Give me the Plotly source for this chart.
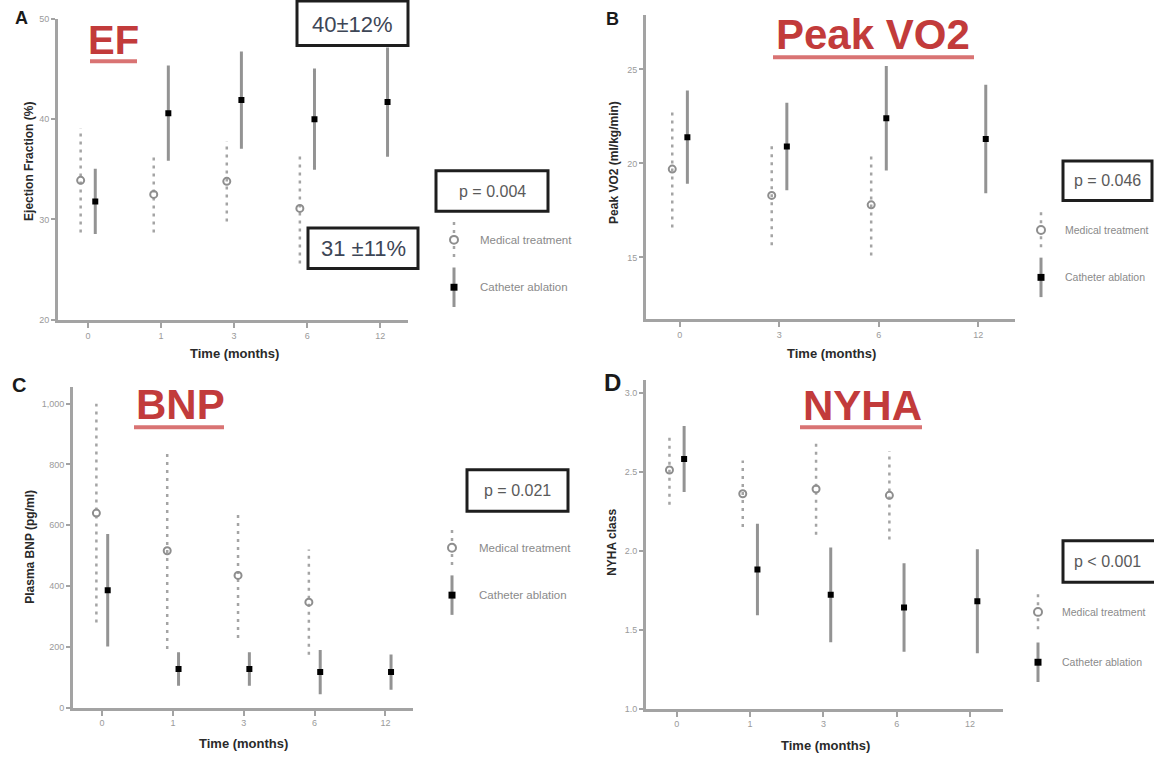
import plotly.graph_objects as go

W, H = 1154, 760

# ---------------- data ----------------
ef_times = ["0", "1", "3", "6", "12"]
ef_med_mean = [33.9, 32.5, 33.8, 31.1, None]
ef_med_sd = [5.2, 3.8, 4.0, 5.5, None]
ef_cath_mean = [31.8, 40.6, 41.9, 40.0, 41.7]
ef_cath_sd = [3.1, 4.6, 4.7, 4.9, 5.3]

vo2_times = ["0", "3", "6", "12"]
vo2_med_mean = [19.7, 18.3, 17.8, None]
vo2_med_sd = [3.1, 2.65, 2.7, None]
vo2_cath_mean = [21.4, 20.9, 22.4, 21.3]
vo2_cath_sd = [2.4, 2.25, 2.7, 2.8]

bnp_times = ["0", "1", "3", "6", "12"]
bnp_med_mean = [640, 516, 435, 347, None]
bnp_med_sd = [360, 323, 206, 173, None]
bnp_cath_mean = [386, 127, 127, 117, 117]
bnp_cath_sd = [180, 50, 50, 68, 53]

nyha_times = ["0", "1", "3", "6", "12"]
nyha_med_mean = [2.51, 2.36, 2.39, 2.35, None]
nyha_med_sd = [0.22, 0.21, 0.29, 0.28, None]
nyha_cath_mean = [2.58, 1.88, 1.72, 1.64, 1.68]
nyha_cath_sd = [0.20, 0.28, 0.29, 0.27, 0.32]

ef_yticks = [20, 30, 40, 50]
vo2_yticks = [15, 20, 25]
bnp_yticks = [0, 200, 400, 600, 800, 1000]
bnp_yticktext = ["0", "200", "400", "600", "800", "1,000"]
nyha_yticks = [1.0, 1.5, 2.0, 2.5, 3.0]
nyha_yticktext = ["1.0", "1.5", "2.0", "2.5", "3.0"]

titles = ["EF", "Peak VO2", "BNP", "NYHA"]
ytitles = ["Ejection Fraction (%)", "Peak VO2 (ml/kg/min)", "Plasma BNP (pg/ml)", "NYHA class"]
pvalues = ["p = 0.004", "p = 0.046", "p = 0.021", "p < 0.001"]
letters = ["A", "B", "C", "D"]
legend_names = ["Medical treatment", "Catheter ablation"]

# ---------------- layout helpers ----------------
def px(x):
    return x / W

def py(y):
    return 1 - y / H

RED = "#c23b3b"
RED_UL = "#d97373"
AXIS = "#a3a3a3"
GREY_TXT = "#9a9a9a"
FONT = "Liberation Sans, Arial, sans-serif"

panels = [
    dict(times=ef_times, med=(ef_med_mean, ef_med_sd), cath=(ef_cath_mean, ef_cath_sd),
         xpx=(58, 408), ypx=(14, 319), xr=[-0.41, 4.38], yr=[20, 50],
         yt=ef_yticks, ytt=[str(v) for v in ef_yticks], off=0.1,
         title_c=(113, 35), title_size=40, ul=(90, 137, 57),
         ytitle_c=(29, 159), xtitle_c=(234, 353),
         pbox=(436, 548, 168, 209), leg=(454, 238, 286, 478), leg_size=11.5,
         letter=(21, 13), letter_size=18),
    dict(times=vo2_times, med=(vo2_med_mean, vo2_med_sd), cath=(vo2_cath_mean, vo2_cath_sd),
         xpx=(646, 1015), ypx=(10, 318), xr=[-0.34, 3.37], yr=[11.74, 27.9],
         yt=vo2_yticks, ytt=[str(v) for v in vo2_yticks], off=0.076,
         title_c=(873, 30), title_size=42, ul=(773, 974, 53),
         ytitle_c=(614, 160), xtitle_c=(831, 353),
         pbox=(1063, 1152, 158, 198), leg=(1041, 228, 276, 1063), leg_size=10.5,
         letter=(612, 14), letter_size=18),
    dict(times=bnp_times, med=(bnp_med_mean, bnp_med_sd), cath=(bnp_cath_mean, bnp_cath_sd),
         xpx=(73, 413), ypx=(387, 712), xr=[-0.41, 4.39], yr=[0, 1055],
         yt=bnp_yticks, ytt=bnp_yticktext, off=0.08,
         title_c=(180, 405), title_size=42, ul=(134, 224, 428),
         ytitle_c=(30, 549), xtitle_c=(243, 748),
         pbox=(467, 568, 471, 513), leg=(452, 550, 598, 477), leg_size=11.5,
         letter=(19, 385), letter_size=20),
    dict(times=nyha_times, med=(nyha_med_mean, nyha_med_sd), cath=(nyha_cath_mean, nyha_cath_sd),
         xpx=(646, 1003), ypx=(380, 713), xr=[-0.42, 4.45], yr=[1.0, 3.08],
         yt=nyha_yticks, ytt=nyha_yticktext, off=0.1,
         title_c=(862, 406), title_size=42, ul=(800, 922, 428),
         ytitle_c=(612, 545), xtitle_c=(825, 750),
         pbox=(1063, 1160, 543, 585), leg=(1038, 615, 666, 1060), leg_size=10.5,
         letter=(612, 383), letter_size=24),
]

fig = go.Figure()
annotations = []
shapes = []
layout_axes = {}

for i, p in enumerate(panels, start=1):
    xa = "x" if i == 1 else f"x{i}"
    ya = "y" if i == 1 else f"y{i}"
    idx = list(range(len(p["times"])))
    med_mean, med_sd = p["med"]
    cath_mean, cath_sd = p["cath"]
    off = p["off"]

    # medical treatment: dotted error bars + open circles
    bx, by, mx, my = [], [], [], []
    for k, m, s in zip(idx, med_mean, med_sd):
        if m is None:
            continue
        bx += [k - off, k - off, None]
        by += [m - s, m + s, None]
        mx.append(k - off)
        my.append(m)
    fig.add_trace(go.Scatter(x=bx, y=by, mode="lines", xaxis=xa, yaxis=ya,
                             line=dict(color="#a4a4a4", width=2.5, dash="3px,5px"),
                             showlegend=False, hoverinfo="skip"))
    fig.add_trace(go.Scatter(x=mx, y=my, mode="markers", xaxis=xa, yaxis=ya,
                             marker=dict(symbol="circle-open", size=7, color="#8e8e8e",
                                         line=dict(width=2, color="#8e8e8e")),
                             name=legend_names[0], showlegend=False))
    # catheter ablation: solid error bars + black squares
    fig.add_trace(go.Scatter(x=[k + off for k in idx], y=cath_mean, mode="markers",
                             xaxis=xa, yaxis=ya,
                             marker=dict(symbol="square", size=6, color="black"),
                             error_y=dict(type="data", array=cath_sd, visible=True,
                                          color="#939393", thickness=3, width=1.5),
                             name=legend_names[1], showlegend=False))

    xk = "xaxis" if i == 1 else f"xaxis{i}"
    yk = "yaxis" if i == 1 else f"yaxis{i}"
    layout_axes[xk] = dict(domain=[px(p["xpx"][0]), px(p["xpx"][1])], anchor=ya,
                           range=p["xr"], tickmode="array", tickvals=idx, ticktext=p["times"],
                           showline=True, linecolor=AXIS, linewidth=3, ticks="outside",
                           ticklen=5, tickwidth=2, tickcolor=AXIS, showgrid=False,
                           zeroline=False, tickfont=dict(size=9, color=GREY_TXT, family=FONT),
                           fixedrange=True)
    layout_axes[yk] = dict(domain=[py(p["ypx"][1]), py(p["ypx"][0])], anchor=xa,
                           range=p["yr"], tickmode="array", tickvals=p["yt"], ticktext=p["ytt"],
                           showline=True, linecolor=AXIS, linewidth=3, ticks="outside",
                           ticklen=4, tickwidth=2, tickcolor=AXIS, showgrid=False,
                           zeroline=False, tickfont=dict(size=9, color=GREY_TXT, family=FONT),
                           fixedrange=True)

    t = titles[i - 1]
    # title
    annotations.append(dict(text=f"<b>{t}</b>", x=px(p["title_c"][0]), y=py(p["title_c"][1]),
                            xref="paper", yref="paper", showarrow=False,
                            xanchor="center", yanchor="middle",
                            font=dict(size=p["title_size"], color=RED, family=FONT)))
    ul = p["ul"]
    shapes.append(dict(type="line", xref="paper", yref="paper", x0=px(ul[0]), x1=px(ul[1]),
                       y0=py(ul[2]), y1=py(ul[2]), line=dict(color=RED_UL, width=4)))
    # axis titles
    annotations.append(dict(text=f"<b>{ytitles[i-1]}</b>", x=px(p["ytitle_c"][0]),
                            y=py(p["ytitle_c"][1]), xref="paper", yref="paper",
                            showarrow=False, textangle=-90, xanchor="center", yanchor="middle",
                            font=dict(size=12, color="#2a2a2a", family=FONT)))
    annotations.append(dict(text="<b>Time (months)</b>", x=px(p["xtitle_c"][0]),
                            y=py(p["xtitle_c"][1]), xref="paper", yref="paper",
                            showarrow=False, xanchor="center", yanchor="middle",
                            font=dict(size=13, color="#2a2a2a", family=FONT)))
    # panel letter
    annotations.append(dict(text=f"<b>{letters[i-1]}</b>", x=px(p["letter"][0]),
                            y=py(p["letter"][1]), xref="paper", yref="paper",
                            showarrow=False, xanchor="center", yanchor="middle",
                            font=dict(size=p["letter_size"], color="#1a1a1a", family=FONT)))
    # p-value box
    bx0, bx1, by0, by1 = p["pbox"]
    shapes.append(dict(type="rect", xref="paper", yref="paper", x0=px(bx0), x1=px(bx1),
                       y0=py(by1), y1=py(by0), line=dict(color="#1e1e1e", width=3),
                       fillcolor="white"))
    annotations.append(dict(text=pvalues[i - 1], x=px((bx0 + min(bx1, 1152)) / 2),
                            y=py((by0 + by1) / 2), xref="paper", yref="paper",
                            showarrow=False, xanchor="center", yanchor="middle",
                            font=dict(size=16, color="#5a5a5a", family=FONT)))
    # legend glyphs
    lx, ly1, ly2, ltx = p["leg"]
    shapes.append(dict(type="line", xref="paper", yref="paper", x0=px(lx), x1=px(lx),
                       y0=py(ly1 - 18), y1=py(ly1 + 18),
                       line=dict(color="#a4a4a4", width=2.5, dash="3px,5px")))
    shapes.append(dict(type="circle", xref="paper", yref="paper", x0=px(lx - 4), x1=px(lx + 4),
                       y0=py(ly1 - 4), y1=py(ly1 + 4), fillcolor="white",
                       line=dict(color="#8e8e8e", width=2)))
    shapes.append(dict(type="line", xref="paper", yref="paper", x0=px(lx), x1=px(lx),
                       y0=py(ly2 - 20), y1=py(ly2 + 20), line=dict(color="#939393", width=3)))
    shapes.append(dict(type="rect", xref="paper", yref="paper", x0=px(lx - 3.5), x1=px(lx + 3.5),
                       y0=py(ly2 - 3.5), y1=py(ly2 + 3.5), fillcolor="black",
                       line=dict(color="black", width=0)))
    for name, yy in zip(legend_names, (ly1, ly2)):
        annotations.append(dict(text=name, x=px(ltx), y=py(yy), xref="paper", yref="paper",
                                showarrow=False, xanchor="left", yanchor="middle",
                                font=dict(size=p["leg_size"], color="#8a8a8a", family=FONT)))

# EF value boxes
ef_boxes = [("40±12%", 297, 408, -4, 41, 20), ("31 ±11%", 308, 418, 226, 267, 246.5)]
for txt, x0, x1, y0, y1, ty in ef_boxes:
    shapes.append(dict(type="rect", xref="paper", yref="paper", x0=px(x0), x1=px(x1),
                       y0=py(y1), y1=py(y0), line=dict(color="#1e1e1e", width=3),
                       fillcolor="white"))
    annotations.append(dict(text=txt, x=px((x0 + x1) / 2), y=py(ty),
                            xref="paper", yref="paper", showarrow=False,
                            xanchor="center", yanchor="middle",
                            font=dict(size=22, color="#3d4656", family=FONT)))

fig.update_layout(width=W, height=H, autosize=False,
                  margin=dict(l=0, r=0, t=0, b=0),
                  paper_bgcolor="white", plot_bgcolor="white",
                  showlegend=False, annotations=annotations, shapes=shapes,
                  font=dict(family=FONT), **layout_axes)

fig.write_html("out.html", config={"displayModeBar": False},
               post_script="document.body.style.margin='0px';document.body.style.overflow='hidden';")
